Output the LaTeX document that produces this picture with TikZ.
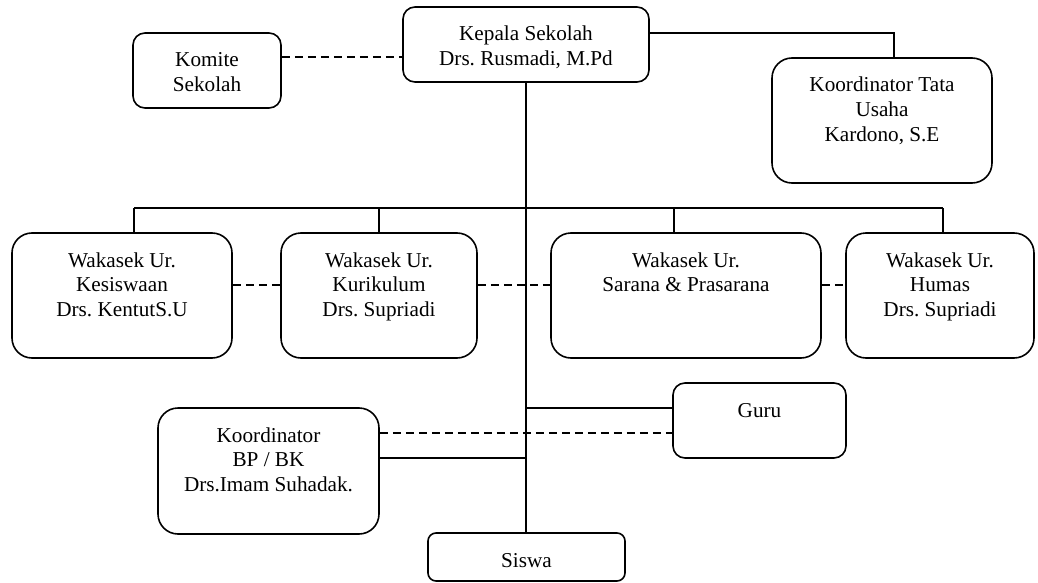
\documentclass[tikz,border=0pt]{standalone}
\usepackage{fontspec}
\setmainfont{Liberation Serif}
\usetikzlibrary{positioning}
\frenchspacing

\newcommand{\orgtext}[3]{\parbox[c][#2pt][t]{#1pt}{\centering\rule{0pt}{34pt}#3}}

\begin{document}
\begin{tikzpicture}[x=1pt, y=-1pt,
    every node/.style={font=\fontsize{21.2}{24.5}\selectfont},
    orgbox/.style={draw, line width=1.6pt, inner sep=0pt, rounded corners=#1},
    orgbox/.default=12pt,
    link/.style={line width=1.6pt},
    dlink/.style={link, dash pattern=on 8pt off 5pt}]
    \useasboundingbox (0,0) rectangle (1038,583);

    \node[orgbox] (kepala) at (526,44.5) {\orgtext{246}{75}{Kepala Sekolah\\Drs. Rusmadi, M.Pd}};
    \node[orgbox] (komite) at (207,70.5) {\orgtext{148}{75}{Komite\\Sekolah}};
    \node[orgbox=20pt] (tu) at (882,120.5) {\orgtext{220}{125}{Koordinator Tata\\Usaha\\Kardono, S.E}};

    \node[orgbox=20pt] (kesiswaan) at (122,295.5) {\orgtext{220}{125}{Wakasek Ur.\\Kesiswaan\\Drs. KentutS.U}};
    \node[orgbox=20pt] (kurikulum) at (379,295.5) {\orgtext{196}{125}{Wakasek Ur.\\Kurikulum\\Drs. Supriadi}};
    \node[orgbox=20pt] (sarana) at (686,295.5) {\orgtext{270}{125}{Wakasek Ur.\\Sarana \& Prasarana}};
    \node[orgbox=20pt] (humas) at (940,295.5) {\orgtext{188}{125}{Wakasek Ur.\\Humas\\Drs. Supriadi}};

    \node[orgbox] (guru) at (759.5,420.5) {\orgtext{173}{75}{Guru}};
    \node[orgbox=20pt] (bpbk) at (268.5,471) {\orgtext{221}{126}{Koordinator\\BP / BK\\Drs.Imam Suhadak.}};
    \node[orgbox=8pt] (siswa) at (526.5,557) {\orgtext{197}{48}{Siswa}};

    % garis komando
    \draw[link] (kepala.east |- 0,33) -| ([xshift=12pt]tu.north);
    \draw[link] (kepala.south) -- (kepala.south |- siswa.north);
    \coordinate (busL) at (134,208);
    \coordinate (busS) at (674,208);
    \coordinate (busR) at (943,208);
    \draw[link] (busL) -- (busR);
    \draw[link] (busL) -- (busL |- kesiswaan.north);
    \draw[link] (kurikulum.north) -- (kurikulum.north |- busL);
    \draw[link] (busS) -- (busS |- sarana.north);
    \draw[link] (busR) -- (busR |- humas.north);
    \draw[link] (guru.west |- 0,408) -- (kepala.south |- 0,408);
    \draw[link] (bpbk.east |- 0,458) -- (kepala.south |- 0,458);

    % garis koordinasi
    \draw[dlink] (komite.east |- 0,57) -- (kepala.west |- 0,57);
    \draw[dlink] (kesiswaan.east |- 0,285) -- (kurikulum.west |- 0,285);
    \draw[dlink] (kurikulum.east |- 0,285) -- (sarana.west |- 0,285);
    \draw[dlink] (sarana.east |- 0,285) -- (humas.west |- 0,285);
    \draw[dlink] (bpbk.east |- 0,433) -- (guru.west |- 0,433);
\end{tikzpicture}
\end{document}
